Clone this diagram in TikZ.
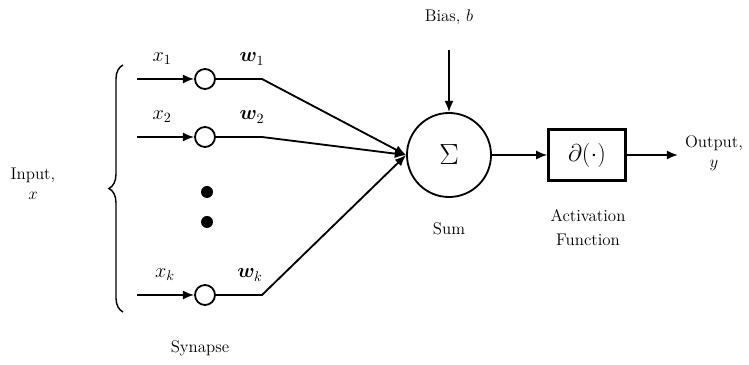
\documentclass[tikz,border=0pt]{standalone}
\usepackage{amsmath}
\usepackage{amssymb}
\usepackage{bm}
\usepackage{tikz}
\usetikzlibrary{arrows.meta, decorations.pathreplacing, calc}

\begin{document}
\begin{tikzpicture}[x=0.025cm,y=-0.025cm,line width=1.3pt,font=\large,
    >={Latex[length=8pt,width=6.5pt]},
    syn/.style={circle,draw,fill=white,minimum size=0.5cm,inner sep=0pt},
    sumnode/.style={circle,draw,minimum size=2.1cm,inner sep=0pt},
    actbox/.style={rectangle,draw,line width=1.7pt,minimum width=1.925cm,minimum height=1.275cm,inner sep=0pt},
    lab/.style={inner sep=1pt,align=center},
    wlab/.style={inner sep=1pt,font=\Large}]
  \useasboundingbox (0,0) rectangle (749,365);
  % synapses
  \node[syn] (s1) at (205,79) {};
  \node[syn] (s2) at (205,137) {};
  \node[syn] (sk) at (205,295) {};
  \fill (207,192) circle (6);
  \fill (207,222) circle (6);
  \coordinate (in1) at (137,79);
  \coordinate (in2) at (137,137);
  \coordinate (ink) at (137,295);
  \draw[->] (in1) -- (s1);
  \draw[->] (in2) -- (s2);
  \draw[->] (ink) -- (sk);
  \node[wlab] (x1) at (162,59) {$x_1$};
  \node[wlab] (x2) at (162,117) {$x_2$};
  \node[wlab] (xk) at (165,275) {$x_k$};
  \node[wlab] (w1) at (252,59) {$\bm{w}_1$};
  \node[wlab] (w2) at (252,117) {$\bm{w}_2$};
  \node[wlab] (wk) at (250,275) {$\bm{w}_k$};
  % brace and input
  \draw[line width=1pt,decorate,decoration={brace,amplitude=10pt}] (123,312) -- (123,65);
  \node[lab] (input) at (33,184) {Input,\\$x$};
  \node[lab] (synapse) at (200,348) {Synapse};
  % sum
  \node[sumnode] (sum) at (449,155) {\huge$\Sigma$};
  \coordinate (k1) at (262,79);
  \coordinate (k2) at (262,137);
  \coordinate (kk) at (262,295);
  \draw[->] (s1) -- (k1) -- (sum.west);
  \draw[->] (s2) -- (k2) -- (sum.west);
  \draw[->] (sk) -- (kk) -- (sum.west);
  \node[lab] (bias) at (449,17) {Bias, $b$};
  \coordinate (bin) at (449,50);
  \draw[->] (bin) -- (sum.north);
  \node[lab] (sumlab) at (449,229) {Sum};
  % activation
  \node[actbox] (act) at (587,155) {\LARGE$\partial(\cdot)$};
  \draw[->] (sum.east) -- (act.west);
  \node[lab] (actlab) at (588,228) {Activation\\[3pt]Function};
  \coordinate (out) at (678,155);
  \draw[->] (act.east) -- (out);
  \node[lab] (output) at (714,153) {Output,\\$y$};
\end{tikzpicture}
\end{document}
